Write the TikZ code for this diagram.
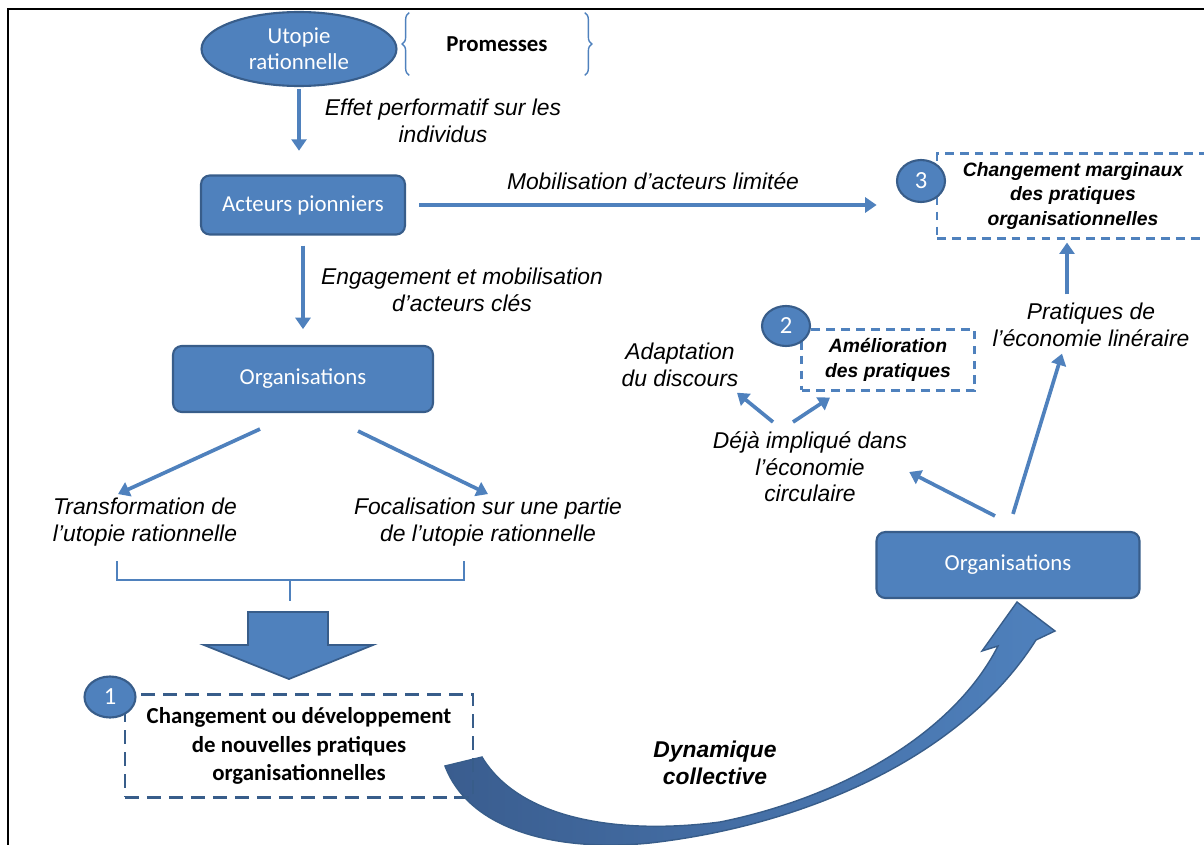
\documentclass[tikz,border=0pt]{standalone}
\usepackage{fontspec}
\setmainfont{Liberation Sans}
\newfontfamily\calibri{Carlito}
\usetikzlibrary{arrows.meta,shapes.geometric,decorations.pathreplacing,calc}
\definecolor{bleu}{HTML}{4F81BD}
\definecolor{bleuB}{HTML}{385D8A}
\definecolor{bleuF}{HTML}{3A5D8F}

\begin{document}
\begin{tikzpicture}[
  x=0.02cm, y=-0.02cm, % une unite = un pixel de l'image
  boite/.style={draw=bleuB, fill=bleu, line width=1.2pt, rounded corners=5pt, text=white, font=\calibri\fontsize{13}{15}\selectfont},
  pastille/.style={ellipse, draw=bleuB, fill=bleu, line width=1.2pt, text=white, inner sep=0pt, font=\calibri\fontsize{14}{16}\selectfont},
  cadre/.style={draw=bleu, line width=1.2pt, dash pattern=on 5pt off 3.5pt, align=center, font=\bfseries\itshape\fontsize{11}{14.2}\selectfont},
  etiq/.style={align=center, font=\itshape\fontsize{13}{15}\selectfont, inner sep=1pt},
  fleche/.style={draw=bleu, line width=2.1pt, -{Triangle[width=8.5pt,length=6.5pt]}},
  ]
\useasboundingbox (0,0) rectangle (1204,845);
\clip (0,0) rectangle (1204,845);
\draw[line width=1.1pt] (8,850) -- (8,9) -- (1210,9);

% haut : utopie et promesses
\node[ellipse, draw=bleuB, fill=bleu, line width=1.2pt, text=white, minimum width=3.9cm, minimum height=1.48cm,
  inner sep=0pt, align=center, font=\calibri\fontsize{13}{15}\selectfont] (utopie) at (299,49) {Utopie\\rationnelle};
\node[font=\calibri\bfseries\fontsize{13}{15}\selectfont, minimum width=3.5cm, minimum height=1.24cm] (prom) at (497,44) {Promesses};
\draw[bleu, line width=0.8pt, decorate, decoration={brace, amplitude=4pt}] (prom.south west) -- (prom.north west);
\draw[bleu, line width=0.8pt, decorate, decoration={brace, amplitude=4pt}] (prom.north east) -- (prom.south east);

\node[boite, minimum width=4.08cm, minimum height=1.18cm] (acteurs) at (303,205) {Acteurs pionniers};
\node[boite, minimum width=5.2cm, minimum height=1.32cm] (orgA) at (303,379) {Organisations};
\node[boite, minimum width=5.26cm, minimum height=1.32cm] (orgB) at (1008,565) {Organisations};

% etiquettes
\node[etiq] (effet) at (443,121) {Effet performatif sur les\\individus};
\node[etiq] (engag) at (462,290) {Engagement et mobilisation\\d’acteurs clés};
\node[etiq] (mobil) at (653,181) {Mobilisation d’acteurs limitée};
\node[etiq] (transf) at (145,522) {Transformation de\\l’utopie rationnelle};
\node[etiq] (focal) at (488,522) {Focalisation sur une partie\\de l’utopie rationnelle};
\node[etiq] (deja) at (810,467) {Déjà impliqué dans\\l’économie\\circulaire};
\node[etiq] (adapt) at (680,365) {Adaptation\\du discours};
\node[etiq] (prat) at (1091,325) {Pratiques de\\l’économie linéraire};
\node[etiq, font=\bfseries\itshape\fontsize{13}{15}\selectfont] (dyn) at (715,763) {Dynamique\\collective};

% grosse fleche courbe
\shade[left color=bleuF, right color=bleu, draw=bleuB, line width=0.8pt]
  (445,766) .. controls (470,832) and (560,852) .. (650,843)
  .. controls (800,826) and (960,760) .. (1036,640) -- (1055,631) -- (1017,602) -- (982,651) -- (998,646)
  .. controls (950,740) and (830,800) .. (720,822)
  .. controls (620,835) and (520,820) .. (482,757) -- cycle;

% fleche bloc et crochet
\draw[bleu, line width=0.8pt] (117,561) -- (117,580) -- (464,580) -- (464,561) (290,580) -- (290,601);
\draw[draw=bleuB, fill=bleu, line width=1pt] (248,612) -- (328,612) -- (328,645) -- (373,645) -- (289,679) -- (204,645) -- (248,645) -- cycle;

% cadres pointilles
\node[cadre, draw=bleuB, line width=1.6pt, dash pattern=on 8pt off 4.5pt, font=\calibri\bfseries\fontsize{13}{16}\selectfont,
  minimum width=6.96cm, minimum height=2.06cm] (chg1) at (299,746) {Changement ou développement\\de nouvelles pratiques\\organisationnelles};
\node[cadre, minimum width=3.46cm, minimum height=1.22cm] (chg2) at (888,360) {Amélioration\\des pratiques};
\node[cadre, minimum width=5.44cm, minimum height=1.7cm] (chg3) at (1073,196) {Changement marginaux\\des pratiques\\organisationnelles};

\node[pastille, minimum width=1.02cm, minimum height=0.82cm] (p1) at (110,697) {1};
\node[pastille, minimum width=0.96cm, minimum height=0.8cm] (p2) at (786,326) {2};
\node[pastille, minimum width=0.96cm, minimum height=0.84cm] (p3) at (921,181) {3};

% fleches
\draw[fleche, shorten <=1pt, shorten >=13.5pt] (utopie.south) -- (utopie.south |- acteurs.north);
\draw[fleche, shorten <=5.7pt, shorten >=9pt] (acteurs.south) -- (acteurs.south |- orgA.north);
\draw[fleche, shorten <=7.4pt, shorten >=11pt] (acteurs.east) -- (acteurs.east -| p3.west);
\draw[fleche] ($(orgA.south)+(-43,16)$) -- ($(transf.north)+(-27,-2)$);
\draw[fleche] ($(orgA.south)+(55,18)$) -- ($(focal.north)+(0,-2)$);
\draw[fleche] ($(orgB.north)+(5,-17)$) -- ($(prat.south)+(-29,5)$);
\draw[fleche] ($(orgB.north)+(-13,-15)$) -- ($(deja.east)+(0,5)$);
\draw[fleche] ($(deja.north)+(-37,-8)$) -- ($(adapt.south)+(57,4)$);
\draw[fleche] ($(deja.north)+(-17,-8)$) -- ($(chg2.south)+(-58,6)$);
\draw[fleche] ($(prat.north)+(-24,-7)$) -- ($(chg3.south)+(-6,3)$);

\end{tikzpicture}
\end{document}
